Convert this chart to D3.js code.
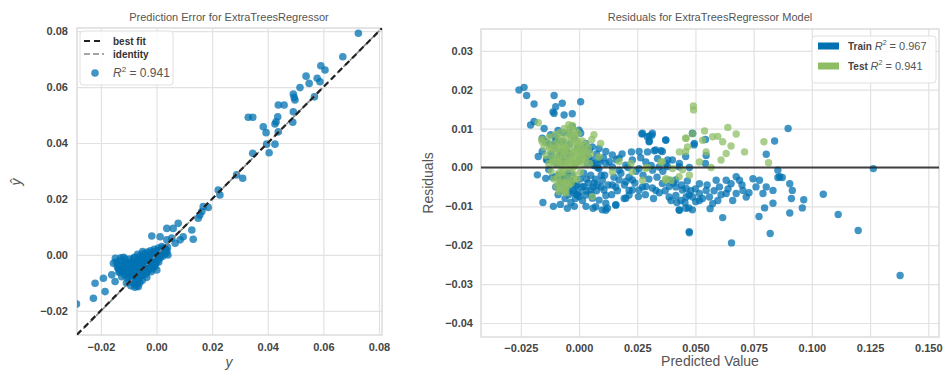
<!DOCTYPE html>
<html>
<head>
<meta charset="utf-8">
<script src="https://cdn.jsdelivr.net/npm/d3@7"></script>
<style>
  body { margin: 0; background: #fff; }
  svg { display: block; font-family: "Liberation Sans", Arial, sans-serif; }
</style>
</head>
<body>
<svg id="chart" width="944" height="372"></svg>
<script>
// ---- data ----
// prediction error: [actual y, predicted y-hat]
const predErrPoints = [
  [0.0726,0.0792],[0.0670,0.0708],[0.0591,0.0676],[0.0606,0.0661],[0.0578,0.0631],[0.0588,0.0619],
  [0.0538,0.0639],[0.0549,0.0613],[0.0516,0.0598],[0.0492,0.0575],[0.0498,0.0554],[0.0495,0.0563],
  [0.0568,0.0565],[0.0438,0.0536],[0.0459,0.0536],[0.0492,0.0512],[0.0436,0.0494],[0.0430,0.0476],
  [0.0426,0.0468],[0.0490,0.0474],[0.0330,0.0492],[0.0346,0.0492],[0.0384,0.0458],[0.0394,0.0437],
  [0.0438,0.0440],[0.0426,0.0396],[0.0405,0.0365],[0.0396,0.0396],[0.0346,0.0363],[0.0288,0.0286],
  [0.0310,0.0274],
  [0.0228,0.0214],[0.0222,0.0232],[0.0168,0.0173],[0.0186,0.0170],[0.0163,0.0155],[0.0150,0.0131],
  [0.0156,0.0143],[0.0078,0.0113],[0.0060,0.0095],[0.0037,0.0095],[0.0127,0.0089],[0.0132,0.0056],
  [0.0096,0.0065],[0.0067,0.0042],[0.0085,0.0054],[0.0013,0.0065],[-0.0017,0.0068],[0.0031,0.0024],
  [0.0037,0.0054],[0.0055,0.0060],
  [-0.0288,-0.0175],[-0.0221,-0.0101],[-0.0227,-0.0155],[-0.0185,-0.0131],[-0.0191,-0.0083],
  [-0.0161,-0.0071],[-0.0149,-0.0095],[0.0001,-0.0054],[-0.0065,-0.0113],[-0.0137,-0.0048],
  [-0.0131,-0.0060],[-0.0083,-0.0101],[-0.0071,-0.0111],
  [-0.0155,-0.0030],[-0.0148,-0.0012],[-0.0140,-0.0045],[-0.0135,-0.0062],[-0.0130,-0.0020],
  [-0.0126,-0.0035],[-0.0122,-0.0052],[-0.0118,-0.0008],[-0.0115,-0.0072],[-0.0110,-0.0028],
  [-0.0106,-0.0045],[-0.0103,-0.0085],[-0.0100,-0.0060],[-0.0097,-0.0015],[-0.0094,-0.0038],
  [-0.0090,-0.0070],[-0.0088,-0.0095],[-0.0085,-0.0025],[-0.0082,-0.0050],[-0.0079,-0.0008],
  [-0.0076,-0.0080],[-0.0073,-0.0035],[-0.0070,-0.0062],[-0.0068,-0.0102],[-0.0065,-0.0018],
  [-0.0062,-0.0045],[-0.0060,-0.0005],[-0.0057,-0.0075],[-0.0054,-0.0030],[-0.0051,-0.0090],
  [-0.0048,-0.0055],[-0.0046,0.0005],[-0.0043,-0.0015],[-0.0040,-0.0040],[-0.0038,-0.0068],
  [-0.0035,-0.0025],[-0.0032,0.0010],[-0.0030,-0.0052],[-0.0027,-0.0008],[-0.0024,-0.0035],
  [-0.0022,0.0015],[-0.0019,-0.0060],[-0.0016,-0.0020],[-0.0013,0.0005],[-0.0010,-0.0042],
  [-0.0008,0.0020],[-0.0005,-0.0012],[-0.0002,-0.0030],[0.0001,0.0008],[0.0004,-0.0018],
  [0.0007,0.0025],[0.0010,0.0002],[0.0013,-0.0010],[0.0016,0.0018],[0.0019,0.0030],
  [0.0022,-0.0005],[0.0026,0.0012],[0.0030,0.0022],[0.0034,0.0005],[0.0038,0.0015],
  [0.0041,0.0000],[-0.0092,-0.0110],[-0.0078,-0.0115],[-0.0060,-0.0098],[-0.0108,-0.0100],
  [-0.0125,-0.0078],[-0.0050,0.0012],[-0.0068,0.0002],[-0.0035,-0.0080],[-0.0015,-0.0050],
  [-0.0145,-0.0025],[-0.0138,-0.0035],[-0.0132,-0.0050],[-0.0128,-0.0010],[-0.0120,-0.0040],
  [-0.0117,-0.0060],[-0.0112,-0.0015],[-0.0108,-0.0065],[-0.0104,-0.0032],[-0.0099,-0.0078],
  [-0.0096,-0.0050],[-0.0092,-0.0028],[-0.0089,-0.0085],[-0.0086,-0.0060],[-0.0083,-0.0012],
  [-0.0080,-0.0040],[-0.0077,-0.0068],[-0.0074,-0.0092],[-0.0071,-0.0022],[-0.0067,-0.0050],
  [-0.0064,-0.0085],[-0.0061,-0.0030],[-0.0058,-0.0060],[-0.0055,-0.0010],[-0.0052,-0.0042],
  [-0.0049,-0.0072],[-0.0045,-0.0025],[-0.0042,-0.0055],[-0.0039,0.0000],[-0.0036,-0.0040],
  [-0.0033,-0.0060],[-0.0029,-0.0015],[-0.0026,-0.0045],[-0.0023,0.0002],[-0.0020,-0.0028],
  [-0.0017,-0.0008],[-0.0012,-0.0025],[-0.0009,0.0010],[-0.0006,-0.0040],[-0.0003,0.0000],
  [0.0002,-0.0008],[0.0005,0.0015],[0.0008,-0.0025],[0.0011,0.0012],[0.0015,0.0000],
  [0.0020,0.0010],[0.0024,0.0025],[0.0028,0.0005],[0.0033,0.0018],[0.0039,0.0028]
];
const bestFit = [0.998, 0.0001];          // slope, intercept
const predErrR2 = "0.941";

// residuals: [predicted value, residual]
const trainResid = [
  [-0.0258,0.0199],[-0.0236,0.0206],[-0.0225,0.0185],[-0.0193,0.0163],[-0.0107,0.0185],
  [-0.0072,0.0165],[-0.0100,0.0156],[-0.0112,0.0143],[-0.0107,0.0139],[-0.0064,0.0135],
  [-0.0029,0.0138],[0.0007,0.0169],[-0.0208,0.0109],[-0.0193,0.0118],
  [-0.0158,0.0075],[-0.0143,0.0066],[-0.0122,0.0084],[-0.0100,0.0079],[-0.0107,0.0058],
  [-0.0072,0.0066],[-0.0043,0.0088],[-0.0029,0.0105],[0.0000,0.0096],[0.0007,0.0088],
  [-0.0175,0.0028],[-0.0179,-0.0019],[-0.0143,-0.0028],[-0.0155,-0.0090],[-0.0158,0.0041],
  [-0.0136,0.0019],
  [-0.0100,-0.0024],[-0.0072,-0.0041],[-0.0043,-0.0058],[-0.0021,-0.0066],[0.0000,-0.0075],
  [0.0029,-0.0071],[0.0057,-0.0079],[0.0086,-0.0084],[0.0072,-0.0101],[0.0115,-0.0092],
  [0.0100,-0.0109],[0.0122,-0.0105],[0.0158,-0.0096],[0.0201,-0.0079],[0.0215,-0.0071],
  [0.0229,-0.0058],[0.0258,-0.0058],[0.0287,-0.0049],[0.0315,-0.0053],[0.0358,-0.0041],
  [0.0387,-0.0049],[0.0415,-0.0032],[0.0444,-0.0058],[0.0473,-0.0071],[0.0501,-0.0088],
  [0.0458,-0.0105],[0.0430,-0.0109],[0.0487,-0.0109],[0.0473,-0.0165],[-0.0014,-0.0049],
  [0.0021,-0.0049],[0.0050,-0.0058],[0.0079,-0.0045],[0.0107,-0.0058],[0.0143,-0.0045],
  [0.0172,-0.0032],[0.0201,-0.0036],[0.0229,-0.0032],[-0.0057,-0.0024],[-0.0036,-0.0036],
  [0.0029,0.0062],[0.0057,0.0053],[0.0086,0.0049],[0.0115,0.0041],[0.0143,0.0032],
  [0.0172,0.0024],[0.0229,0.0019],[0.0258,0.0041],[0.0272,0.0088],[0.0293,0.0079],
  [0.0315,0.0088],[0.0301,0.0066],[0.0329,0.0045],[0.0358,0.0041],[0.0372,0.0071],
  [0.0401,0.0019],[0.0430,0.0002],[0.0458,0.0028],[0.0487,0.0088],[0.0494,0.0058],
  [0.0270,0.0086],[0.0302,0.0081],[0.0313,0.0083],[0.0302,0.0068],[0.0373,0.0070],
  [0.0488,0.0087],[0.0495,0.0062],[0.0543,0.0072],[0.0546,0.0031],[0.0543,0.0010],
  [0.0294,0.0040],[0.0323,0.0043],[0.0352,0.0043],[0.0337,0.0023],[0.0381,0.0019],
  [0.0431,0.0010],[0.0474,0.0000],[0.0898,0.0100],[0.0840,0.0068],[0.0804,0.0034],
  [0.0854,-0.0007],[0.0873,-0.0026],[0.0854,-0.0026],[0.1264,-0.0003],
  [0.0387,-0.0076],[0.0416,-0.0072],[0.0438,-0.0085],[0.0460,-0.0076],[0.0488,-0.0076],
  [0.0517,-0.0067],[0.0517,-0.0085],[0.0546,-0.0059],[0.0560,-0.0076],[0.0574,-0.0093],
  [0.0596,-0.0085],[0.0603,-0.0050],[0.0632,-0.0067],[0.0632,-0.0033],[0.0653,-0.0042],
  [0.0675,-0.0067],[0.0689,-0.0033],[0.0704,-0.0059],[0.0718,-0.0076],[0.0747,-0.0029],
  [0.0775,-0.0033],[0.0790,-0.0067],[0.0804,-0.0050],[0.0833,-0.0059],[0.0862,-0.0024],
  [0.0905,-0.0042],[0.0916,-0.0059],[0.0912,-0.0080],[0.0965,-0.0083],[0.0959,-0.0104],
  [0.1049,-0.0069],[0.1113,-0.0121],[0.1199,-0.0162],[0.1379,-0.0278],[0.0905,-0.0117],
  [0.0821,-0.0170],[0.0655,-0.0194],[0.0617,-0.0129],[0.0474,-0.0168],[0.0773,-0.0126],
  [0.0797,-0.0104],[0.0833,-0.0092],[0.0563,-0.0106],[0.0471,-0.0104],[0.0431,-0.0110],
  [0.0589,-0.0033],[0.0675,-0.0024],[0.0517,-0.0042],[0.0460,-0.0054],[0.0416,-0.0050],
  [0.0086,-0.0003],[0.0115,0.0010],[0.0143,0.0001],[0.0172,-0.0007],[0.0201,0.0006],
  [0.0258,-0.0003],[0.0287,0.0014],[0.0316,-0.0007],[0.0344,0.0001],[0.0373,0.0010],
  [0.0100,-0.0033],[0.0158,-0.0050],[0.0215,-0.0059],[0.0273,-0.0050],[0.0330,-0.0059],
  [0.0387,-0.0033],[0.0115,-0.0072],[0.0194,-0.0080],[0.0115,-0.0110],[0.0158,-0.0097],
  [-0.0140,0.0020],[-0.0130,-0.0005],[-0.0120,0.0035],[-0.0115,-0.0025],[-0.0105,0.0050],
  [-0.0100,-0.0050],[-0.0095,0.0010],[-0.0090,-0.0070],[-0.0085,0.0030],[-0.0080,-0.0035],
  [-0.0075,0.0065],[-0.0070,-0.0060],[-0.0065,0.0015],[-0.0060,-0.0080],[-0.0055,0.0045],
  [-0.0050,-0.0045],[-0.0045,-0.0070],[-0.0040,0.0060],[-0.0035,-0.0090],[-0.0030,-0.0020],
  [-0.0025,-0.0060],[-0.0020,0.0075],[-0.0015,-0.0080],[-0.0010,-0.0045],[-0.0005,0.0050],
  [0.0000,-0.0065],[0.0005,-0.0030],[0.0010,0.0045],[0.0015,-0.0085],[0.0020,-0.0015],
  [0.0025,0.0030],[0.0030,-0.0060],[0.0035,0.0010],[0.0040,-0.0040],[0.0045,0.0045],
  [0.0050,-0.0020],[0.0055,0.0020],[0.0060,-0.0050],[0.0065,0.0005],[0.0070,-0.0030],
  [0.0075,0.0035],[0.0080,0.0000],[0.0090,0.0015],[0.0095,-0.0020],[-0.0110,-0.0100],
  [-0.0080,-0.0095],[-0.0050,-0.0105],[-0.0020,-0.0100],[0.0030,-0.0100],[0.0060,-0.0105],
  [-0.0150,0.0100],[-0.0090,0.0095],[-0.0070,0.0090],
  [0.0060,0.0010],[0.0065,-0.0040],[0.0075,-0.0060],[0.0085,0.0020],[0.0095,-0.0050],
  [0.0105,0.0025],[0.0110,-0.0020],[0.0125,-0.0045],[0.0130,0.0015],[0.0140,-0.0070],
  [0.0150,-0.0025],[0.0160,0.0020],[0.0165,-0.0060],[0.0180,-0.0015],[0.0185,0.0035],
  [0.0195,-0.0045],[0.0210,0.0000],[0.0215,-0.0025],[0.0225,0.0040],[0.0240,-0.0040],
  [0.0245,-0.0010],[0.0255,-0.0075],[0.0265,0.0025],[0.0275,-0.0020],[0.0285,-0.0070],
  [0.0300,-0.0030],[0.0310,0.0005],[0.0320,-0.0080],[0.0335,-0.0025],[0.0345,-0.0065],
  [0.0360,-0.0010],[0.0370,-0.0060],[0.0380,0.0002],[0.0395,-0.0085],[0.0405,-0.0040],
  [0.0420,-0.0090],[0.0440,-0.0045],[0.0455,-0.0090],[0.0465,-0.0035],[0.0480,-0.0060],
  [0.0500,-0.0055],[0.0530,-0.0080],[0.0550,-0.0045],[0.0580,-0.0060],[0.0610,-0.0070],
  [0.0640,-0.0055],[0.0660,-0.0085],[0.0700,-0.0045],[0.0730,-0.0065],[0.0760,-0.0050],
  [-0.0125,0.0060],[-0.0110,0.0020],[-0.0100,0.0070],[-0.0088,-0.0020],[-0.0078,0.0040],
  [-0.0068,-0.0030],[-0.0058,0.0025],[-0.0048,-0.0015],[-0.0038,0.0035],[-0.0028,-0.0040],
  [-0.0018,0.0010],[-0.0008,-0.0070],[0.0002,0.0020],[0.0012,-0.0050],[0.0022,0.0050],
  [0.0032,-0.0030],[0.0042,0.0025],[0.0052,-0.0070]
];
const testResid = [
  [-0.0175,0.0115],[-0.0158,0.0066],[0.0064,0.0084],[0.0093,0.0062],[0.0172,0.0015],
  [0.0229,-0.0011],[0.0287,-0.0002],[0.0358,0.0015],[0.0372,-0.0032],[0.0444,-0.0006],
  [0.0458,0.0075],[0.0491,0.0158],[0.0492,0.0148],[0.0458,0.0041],[0.0430,-0.0024],
  [-0.0086,-0.0062],[-0.0057,-0.0066],[0.0057,-0.0075],
  [0.0460,0.0075],[0.0488,0.0087],[0.0539,0.0094],[0.0531,0.0070],[0.0574,0.0079],
  [0.0596,0.0080],[0.0639,0.0103],[0.0675,0.0086],[0.0617,0.0066],[0.0653,0.0055],
  [0.0632,0.0036],[0.0610,0.0019],[0.0711,0.0040],[0.0794,0.0066],[0.0814,0.0012],
  [0.0431,0.0040],[0.0466,0.0053],[0.0517,0.0014],[0.0546,0.0040],[0.0567,0.0000],
  [0.0474,-0.0020],[0.0086,0.0027],[0.0143,-0.0012],[0.0223,0.0010],[0.0273,-0.0033],
  [0.0294,0.0000],[0.0352,0.0014],[0.0373,-0.0029],[0.0395,-0.0033],[0.0402,-0.0003],
  [-0.0160,0.0072],[-0.0150,0.0052],[-0.0142,0.0030],[-0.0135,0.0062],[-0.0130,0.0010],
  [-0.0125,0.0045],[-0.0120,-0.0010],[-0.0115,0.0025],[-0.0110,0.0060],[-0.0108,-0.0030],
  [-0.0104,0.0008],[-0.0100,0.0040],[-0.0097,-0.0048],[-0.0094,0.0018],[-0.0090,0.0070],
  [-0.0087,-0.0015],[-0.0084,0.0035],[-0.0080,0.0090],[-0.0078,0.0002],[-0.0075,-0.0035],
  [-0.0072,0.0055],[-0.0069,0.0020],[-0.0066,-0.0010],[-0.0063,0.0100],[-0.0060,0.0040],
  [-0.0058,-0.0052],[-0.0055,0.0012],[-0.0052,0.0075],[-0.0050,-0.0025],[-0.0047,0.0030],
  [-0.0044,0.0110],[-0.0041,0.0058],[-0.0039,-0.0005],[-0.0036,0.0085],[-0.0033,-0.0040],
  [-0.0030,0.0022],[-0.0028,0.0108],[-0.0025,0.0065],[-0.0022,-0.0018],[-0.0020,0.0042],
  [-0.0017,0.0095],[-0.0014,0.0005],[-0.0011,0.0070],[-0.0009,-0.0030],[-0.0006,0.0035],
  [-0.0003,0.0088],[0.0000,0.0015],[0.0003,0.0055],[0.0006,-0.0012],[0.0010,0.0030],
  [0.0014,0.0068],[0.0018,0.0008],[0.0022,0.0045],[0.0026,0.0020],[0.0030,0.0060],
  [0.0035,0.0030],[0.0040,0.0050],[0.0045,0.0010],[0.0050,0.0035],[0.0055,0.0072],
  [-0.0060,-0.0060],[-0.0045,-0.0045],[-0.0080,-0.0055],[-0.0025,0.0000],[-0.0070,0.0045],
  [-0.0095,0.0050],[-0.0040,0.0020],[-0.0015,0.0025],
  [-0.0128,0.0078],[-0.0118,0.0050],[-0.0112,0.0015],[-0.0102,0.0085],[-0.0098,0.0025],
  [-0.0092,-0.0025],[-0.0086,0.0055],[-0.0082,0.0010],[-0.0076,0.0075],[-0.0073,-0.0015],
  [-0.0068,0.0030],[-0.0064,0.0065],[-0.0059,0.0005],[-0.0056,0.0050],[-0.0053,-0.0040],
  [-0.0049,0.0090],[-0.0046,0.0015],[-0.0042,0.0045],[-0.0038,0.0100],[-0.0035,0.0005],
  [-0.0031,0.0075],[-0.0027,0.0035],[-0.0024,-0.0030],[-0.0021,0.0085],[-0.0018,0.0010],
  [-0.0013,0.0050],[-0.0008,0.0015],[-0.0004,0.0065],[0.0001,0.0040],[0.0008,0.0050],
  [0.0015,0.0025],[0.0025,0.0040],[-0.0065,-0.0040],[-0.0085,-0.0040]
];
const trainR2 = "0.967";
const testR2 = "0.941";

// ticks
const peTicks = [-0.02, 0.00, 0.02, 0.04, 0.06, 0.08];
const resXTicks = [-0.025, 0.000, 0.025, 0.050, 0.075, 0.100, 0.125, 0.150];
const resYTicks = [-0.04, -0.03, -0.02, -0.01, 0.00, 0.01, 0.02, 0.03];

const blue = "#0072B2";
const green = "#8ebd64";

const svg = d3.select("#chart");
const minus = s => s.replace("-", "\u2212");

function drawFrame(g, x, y, xTicks, yTicks, fmtX, fmtY, xPad, yPad) {
  const [x0, x1] = x.range();
  const [y0, y1] = y.range();
  g.append("rect")
    .attr("x", x0).attr("y", y1).attr("width", x1 - x0).attr("height", y0 - y1)
    .attr("fill", "#fff");

  g.append("g")
    .attr("transform", "translate(0," + y0 + ")")
    .call(d3.axisBottom(x).tickValues(xTicks).tickSize(-(y0 - y1)).tickPadding(xPad).tickFormat(d => minus(fmtX(d))))
    .call(a => a.select(".domain").remove())
    .call(a => a.selectAll("line").attr("stroke", "#e2e2e2").attr("stroke-width", 1.2))
    .call(a => a.selectAll("text").attr("fill", "#444").style("font-size", "11px").style("font-weight", "700"));

  g.append("g")
    .attr("transform", "translate(" + x0 + ",0)")
    .call(d3.axisLeft(y).tickValues(yTicks).tickSize(-(x1 - x0)).tickPadding(yPad).tickFormat(d => minus(fmtY(d))))
    .call(a => a.select(".domain").remove())
    .call(a => a.selectAll("line").attr("stroke", "#e2e2e2").attr("stroke-width", 1.2))
    .call(a => a.selectAll("text").attr("fill", "#444").style("font-size", "11px").style("font-weight", "700"));

  g.append("rect")
    .attr("x", x0).attr("y", y1).attr("width", x1 - x0).attr("height", y0 - y1)
    .attr("fill", "none").attr("stroke", "#dcdcdc").attr("stroke-width", 1.5);
}

// ---------- left: prediction error ----------
const lx = d3.scaleLinear().domain([-0.0286, 0.0811]).range([77, 382]);
const ly = d3.scaleLinear().domain([-0.0286, 0.0811]).range([335, 28]);
const left = svg.append("g");
drawFrame(left, lx, ly, peTicks, peTicks, d3.format(".2f"), d3.format(".2f"), 8, 9);

svg.append("clipPath").attr("id", "clipL").append("rect")
  .attr("x", 77).attr("y", 28).attr("width", 305).attr("height", 307);
const lPlot = left.append("g").attr("clip-path", "url(#clipL)");

lPlot.selectAll("circle")
  .data(predErrPoints)
  .enter()
  .append("circle")
  .attr("cx", d => lx(d[0]))
  .attr("cy", d => ly(d[1]))
  .attr("r", 3.8)
  .attr("fill", blue)
  .attr("fill-opacity", 0.75);

const dom = lx.domain();
lPlot.append("line")
  .attr("x1", lx(dom[0])).attr("y1", ly(dom[0]))
  .attr("x2", lx(dom[1])).attr("y2", ly(dom[1]))
  .attr("stroke", "#888").attr("stroke-width", 1.6).attr("stroke-dasharray", "6,3");
lPlot.append("line")
  .attr("x1", lx(dom[0])).attr("y1", ly(bestFit[0] * dom[0] + bestFit[1]))
  .attr("x2", lx(dom[1])).attr("y2", ly(bestFit[0] * dom[1] + bestFit[1]))
  .attr("stroke", "#222").attr("stroke-width", 2.2).attr("stroke-dasharray", "6,4");

left.append("text")
  .attr("x", 229).attr("y", 21).attr("text-anchor", "middle")
  .attr("fill", "#555").style("font-size", "11px")
  .text("Prediction Error for ExtraTreesRegressor");

left.append("text")
  .attr("x", 229).attr("y", 367).attr("text-anchor", "middle")
  .attr("fill", "#555").style("font-size", "14px").style("font-style", "italic")
  .text("y");
left.append("text")
  .attr("transform", "translate(21,182) rotate(-90)").attr("text-anchor", "middle")
  .attr("fill", "#555").style("font-size", "14px").style("font-style", "italic")
  .text("\u0177");

// legend
const lLeg = left.append("g");
lLeg.append("rect").attr("x", 80).attr("y", 31).attr("width", 93).attr("height", 54).attr("rx", 3)
  .attr("fill", "#fff").attr("fill-opacity", 0.85).attr("stroke", "#e0e0e0");
lLeg.append("line").attr("x1", 84).attr("x2", 104).attr("y1", 41).attr("y2", 41)
  .attr("stroke", "#222").attr("stroke-width", 2.2).attr("stroke-dasharray", "6,4");
lLeg.append("line").attr("x1", 84).attr("x2", 104).attr("y1", 54).attr("y2", 54)
  .attr("stroke", "#888").attr("stroke-width", 1.6).attr("stroke-dasharray", "6,3");
lLeg.append("circle").attr("cx", 95).attr("cy", 73).attr("r", 3.8).attr("fill", blue).attr("fill-opacity", 0.75);
lLeg.append("text").attr("x", 113).attr("y", 44.5).attr("fill", "#333")
  .style("font-size", "10px").style("font-weight", "700").text("best fit");
lLeg.append("text").attr("x", 113).attr("y", 57.5).attr("fill", "#333")
  .style("font-size", "10px").style("font-weight", "700").text("identity");
const r2L = lLeg.append("text").attr("x", 113).attr("y", 77).attr("fill", "#555").style("font-size", "12px");
r2L.append("tspan").style("font-style", "italic").text("R");
r2L.append("tspan").attr("dy", -5).style("font-size", "8px").text("2");
r2L.append("tspan").attr("dy", 5).text(" = " + predErrR2);

// ---------- right: residuals ----------
const rx = d3.scaleLinear().domain([-0.0421, 0.1546]).range([481, 939]);
const ry = d3.scaleLinear().domain([-0.0436, 0.0356]).range([337, 29]);
const right = svg.append("g");
drawFrame(right, rx, ry, resXTicks, resYTicks, d3.format(".3f"), d3.format(".2f"), 7, 8);

svg.append("clipPath").attr("id", "clipR").append("rect")
  .attr("x", 481).attr("y", 29).attr("width", 458).attr("height", 308);
const rPlot = right.append("g").attr("clip-path", "url(#clipR)");

rPlot.selectAll("circle.train")
  .data(trainResid)
  .enter()
  .append("circle")
  .attr("class", "train")
  .attr("cx", d => rx(d[0]))
  .attr("cy", d => ry(d[1]))
  .attr("r", 3.7)
  .attr("fill", blue)
  .attr("fill-opacity", 0.75);

rPlot.selectAll("circle.test")
  .data(testResid)
  .enter()
  .append("circle")
  .attr("class", "test")
  .attr("cx", d => rx(d[0]))
  .attr("cy", d => ry(d[1]))
  .attr("r", 3.7)
  .attr("fill", green)
  .attr("fill-opacity", 0.75);

rPlot.append("line")
  .attr("x1", rx.range()[0]).attr("x2", rx.range()[1])
  .attr("y1", ry(0)).attr("y2", ry(0))
  .attr("stroke", "#222").attr("stroke-width", 2).attr("stroke-opacity", 0.85);

right.append("text")
  .attr("x", 710).attr("y", 21).attr("text-anchor", "middle")
  .attr("fill", "#555").style("font-size", "11px")
  .text("Residuals for ExtraTreesRegressor Model");
right.append("text")
  .attr("x", 710).attr("y", 366).attr("text-anchor", "middle")
  .attr("fill", "#555").style("font-size", "14px")
  .text("Predicted Value");
right.append("text")
  .attr("transform", "translate(433,183) rotate(-90)").attr("text-anchor", "middle")
  .attr("fill", "#555").style("font-size", "14px")
  .text("Residuals");

const rLeg = right.append("g");
rLeg.append("rect").attr("x", 812).attr("y", 36).attr("width", 124).attr("height", 47).attr("rx", 3)
  .attr("fill", "#fff").attr("fill-opacity", 0.85).attr("stroke", "#e0e0e0");
[["Train", trainR2, blue, 46], ["Test", testR2, green, 66]].forEach(([name, r2, col, yy]) => {
  rLeg.append("rect").attr("x", 818).attr("y", yy - 3.5).attr("width", 21).attr("height", 7).attr("fill", col);
  const t = rLeg.append("text").attr("x", 848).attr("y", yy + 4).attr("fill", "#444").style("font-size", "11px");
  t.append("tspan").style("font-weight", "700").style("font-size", "10px").text(name + " ");
  t.append("tspan").style("font-style", "italic").attr("fill", "#555").text("R");
  t.append("tspan").attr("dy", -5).style("font-size", "7px").attr("fill", "#555").text("2");
  t.append("tspan").attr("dy", 5).attr("fill", "#555").text(" = " + r2);
});
</script>
</body>
</html>
